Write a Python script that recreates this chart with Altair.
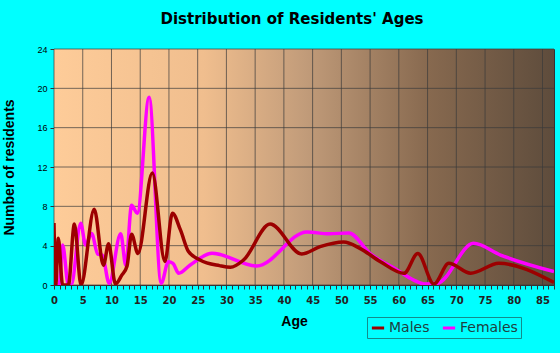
import altair as alt
import pandas as pd

# ---- data ----
male_ages = [0, 0.3, 0.75, 1.5, 2.5, 3.55, 4.7, 7.0, 8.6, 9.5, 10.7, 11.8, 12.7, 13.5, 14.6,
             17.1, 19.3, 20.6, 22.0, 23.4, 25.4, 28.8, 30.7, 33.0, 37.6, 43.1, 46.3, 50.4,
             53.3, 56.8, 60.9, 63.3, 66.1, 68.7, 72.5, 77.4, 87.0]
male_vals = [6.3, 0, 4.75, 0, 0, 6.2, 0, 7.7, 2.0, 4.2, 0.1, 1.0, 1.9, 5.15, 3.2,
             11.4, 2.4, 7.3, 5.6, 3.4, 2.55, 1.97, 1.8, 2.55, 6.2, 3.15, 3.9, 4.37,
             3.7, 2.37, 1.19, 3.2, 0.1, 2.2, 1.2, 2.2, 0.27]

female_ages = [0, 0.9, 1.5, 2.5, 3.0, 4.65, 5.5, 6.55, 7.6, 8.4, 9.6, 11.6, 12.5, 13.5, 14.5,
               16.55, 18.65, 19.9, 20.7, 21.7, 23.7, 27.5, 35.3, 44.0, 47.8, 51.3, 55.0,
               59.7, 62.6, 64.5, 66.7, 73.0, 77.7, 87.0]
female_vals = [0, 0, 4.07, 0, 0, 6.27, 4.07, 5.25, 3.15, 3.05, 0.17, 5.2, 2.0, 8.1, 7.3,
               19.1, 0.17, 2.37, 2.2, 1.19, 2.03, 3.22, 1.93, 5.4, 5.2, 5.3, 3.2,
               1.53, 0.5, 0.1, 0.17, 4.24, 3.05, 1.36]

series_names = ["Males", "Females"]
series_colors = ["#9c0000", "#ff00ff"]
x_tick_values = list(range(0, 88))
x_grid_values = [v for v in x_tick_values if v % 5 == 0]
y_tick_values = [0, 4, 8, 12, 16, 20, 24]
x_domain = [0, 87]
y_domain = [0, 24]

df_m = pd.DataFrame({"age": male_ages, "value": male_vals, "series": "Males"})
df_f = pd.DataFrame({"age": female_ages, "value": female_vals, "series": "Females"})
df_xg = pd.DataFrame({"age": x_grid_values})
df_yg = pd.DataFrame({"value": y_tick_values})

x_scale = alt.Scale(domain=x_domain, nice=False, zero=False)
y_scale = alt.Scale(domain=y_domain, nice=False)

x_axis = alt.Axis(
    values=x_tick_values,
    title="Age",
    grid=False,
    labelExpr="datum.value % 5 === 0 ? datum.label : ''",
    tickSize=4,
    tickColor="#333333",
    domainColor="#333333",
    labelFont="DejaVu Sans",
    labelFontWeight="bold",
    labelFontSize=10,
    labelColor="#222222",
    labelPadding=6,
    labelFlush=False,
    titleFont="Liberation Sans",
    titleFontWeight="bold",
    titleFontSize=14,
    titleColor="#000000",
    titlePadding=9,
    titleX=240,
)
y_axis = alt.Axis(
    values=y_tick_values,
    title="Number of residents",
    grid=False,
    tickSize=4,
    tickColor="#333333",
    domainColor="#333333",
    labelFont="Liberation Sans",
    labelFontSize=9,
    labelColor="#000000",
    labelPadding=3,
    titleFont="Liberation Sans",
    titleFontWeight="bold",
    titleFontSize=14,
    titleColor="#000000",
    titlePadding=20,
)

x_enc = alt.X("age:Q", scale=x_scale, axis=x_axis)
y_enc = alt.Y("value:Q", scale=y_scale, axis=y_axis)

color_enc = alt.Color(
    "series:N",
    scale=alt.Scale(domain=series_names, range=series_colors),
    legend=alt.Legend(
        title=None,
        orient="none",
        legendX=313,
        legendY=268,
        direction="horizontal",
        symbolType="stroke",
        symbolStrokeWidth=3,
        symbolSize=150,
        labelFont="DejaVu Sans",
        labelFontSize=14,
        labelColor="#1f3f3f",
        strokeColor="#138c8c",
        padding=3,
        columnPadding=6,
        labelOffset=3,
    ),
)

gradient = alt.LinearGradient(
    gradient="linear",
    x1=0, y1=0, x2=1, y2=0,
    stops=[
        alt.GradientStop(color="#fecc99", offset=0),
        alt.GradientStop(color="#f0be8e", offset=0.3),
        alt.GradientStop(color="#c29c7a", offset=0.5),
        alt.GradientStop(color="#87694f", offset=0.75),
        alt.GradientStop(color="#5e4c3c", offset=1),
    ],
)

bg = alt.Chart(pd.DataFrame({"a": [0]})).mark_rect(fill=gradient, stroke=None).encode(
    x=alt.datum(x_domain[0], scale=x_scale, axis=x_axis, type="quantitative"),
    x2=alt.datum(x_domain[1]),
    y=alt.datum(y_domain[0], scale=y_scale, axis=y_axis, type="quantitative"),
    y2=alt.datum(y_domain[1]),
)

xgrid = alt.Chart(df_xg).mark_rule(color="#3a3a3a", opacity=0.7, strokeWidth=1).encode(
    x=alt.X("age:Q", scale=x_scale, axis=x_axis)
)
ygrid = alt.Chart(df_yg).mark_rule(color="#3a3a3a", opacity=0.7, strokeWidth=1).encode(
    y=alt.Y("value:Q", scale=y_scale, axis=y_axis)
)

fem = alt.Chart(df_f).mark_line(interpolate="monotone", strokeWidth=3.5, clip=True).encode(
    x=x_enc, y=y_enc, color=color_enc, order="age:Q"
)
male = alt.Chart(df_m).mark_line(interpolate="monotone", strokeWidth=3.5, clip=True).encode(
    x=x_enc, y=y_enc, color=color_enc, order="age:Q"
)

chart = (
    alt.layer(bg, xgrid, ygrid, fem, male)
    .properties(
        width=500,
        height=236,
        padding={"left": 54, "top": 49, "right": 6, "bottom": 68},
        autosize=alt.AutoSizeParams(type="none"),
        title=alt.TitleParams(
            "Distribution of Residents' Ages",
            font="DejaVu Sans",
            fontWeight="bold",
            fontSize=15,
            color="#000000",
            anchor="middle",
            offset=18,
            dx=-12,
        ),
    )
    .configure(background="#00ffff")
    .configure_view(stroke="#333333")
)

chart.save("out.html", embed_options={"renderer": "svg", "actions": False})
